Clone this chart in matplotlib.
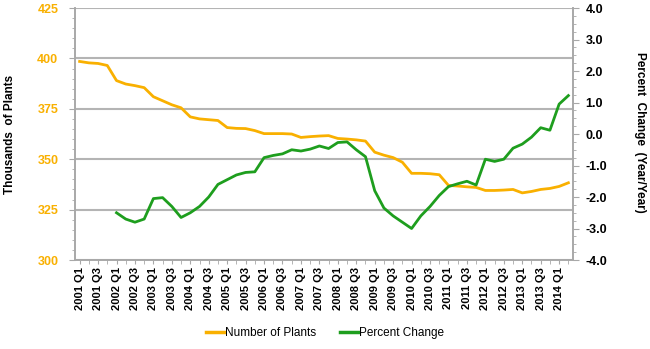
import numpy as np
import matplotlib
matplotlib.use("Agg")
import matplotlib.pyplot as plt
from matplotlib.ticker import MultipleLocator
from matplotlib.lines import Line2D

plt.rcParams['font.family'] = ['Liberation Sans', 'DejaVu Sans']

years = range(2001, 2015)
quarters = [f"{y} Q{q}" for y in years for q in range(1, 5)][:54]

plants = [398.5, 397.8, 397.5, 396.5, 389.0, 387.3, 386.5, 385.5,
          381.0, 379.0, 377.0, 375.5, 371.0, 370.0, 369.6, 369.2,
          365.7, 365.3, 365.2, 364.2, 362.7, 362.7, 362.7, 362.5,
          360.8, 361.2, 361.5, 361.7, 360.3, 360.0, 359.6, 359.0,
          353.5, 352.0, 350.8, 348.5, 343.0, 343.0, 342.8, 342.3,
          337.0, 336.7, 336.3, 336.0, 334.5, 334.5, 334.7, 335.0,
          333.3, 334.0, 335.0, 335.5, 336.5, 338.3]

pct_change = [None, None, None, None, -2.50, -2.70, -2.80, -2.70,
              -2.05, -2.02, -2.30, -2.65, -2.50, -2.30, -2.00, -1.60,
              -1.45, -1.30, -1.22, -1.20, -0.75, -0.68, -0.63, -0.50,
              -0.54, -0.48, -0.38, -0.46, -0.27, -0.25, -0.50, -0.72,
              -1.80, -2.35, -2.60, -2.80, -3.00, -2.60, -2.30, -1.95,
              -1.67, -1.58, -1.50, -1.62, -0.80, -0.87, -0.80, -0.45,
              -0.32, -0.10, 0.20, 0.12, 0.95, 1.22]

orange = '#F9B000'
green = '#1E9E1E'
grey = '#a8a8a8'

x = np.arange(len(quarters))
pct = np.array([np.nan if v is None else v for v in pct_change])

fig, ax = plt.subplots(figsize=(6.5, 3.49), dpi=100)
fig.subplots_adjust(left=0.1154, right=0.8815, top=0.977, bottom=0.255)

ax.plot(x, plants, color=orange, lw=2.0)
ax.set_ylim(300, 425)
ax.set_xlim(-0.5, len(quarters) - 0.5)
ax.yaxis.set_major_locator(MultipleLocator(25))
ax.yaxis.set_minor_locator(MultipleLocator(5))
ax.grid(axis='y', color='#b4b4b4', lw=1.5)
ax.set_axisbelow(True)
ax.set_xticks(x[::2])
ax.set_xticklabels(quarters[::2], rotation=90, fontsize=8, fontweight='bold')
ax.set_xticks(x, minor=True)
for lab in ax.get_yticklabels():
    lab.set_color(orange)
    lab.set_fontweight('bold')
    lab.set_fontsize(9)
ax.tick_params(axis='both', which='both', color=grey, direction='out')
ax.tick_params(axis='y', which='major', length=4, pad=8)
ax.tick_params(axis='y', which='minor', length=2)
ax.tick_params(axis='x', which='both', length=3, pad=2)

ax2 = ax.twinx()
ax2.plot(x, pct, color=green, lw=2.0)
ax2.set_ylim(-4, 4)
ax2.yaxis.set_minor_locator(MultipleLocator(0.25))
ax2.set_yticks(np.arange(-4, 4.1, 1))
ax2.set_yticklabels([f"{v:.1f}" for v in np.arange(-4, 4.1, 1)],
                    fontsize=9, fontweight='bold')
ax2.tick_params(axis='y', which='both', color=grey, direction='out')
ax2.tick_params(axis='y', which='major', length=4, pad=5)
ax2.tick_params(axis='y', which='minor', length=2)

for a in (ax, ax2):
    a.spines['top'].set_visible(False)
    for s in ('left', 'right', 'bottom'):
        a.spines[s].set_color(grey)
        a.spines[s].set_linewidth(1.2)

fig.text(0.016, 0.615, "Thousands  of Plants", rotation=90, ha='center',
         va='center', fontsize=8.5, fontweight='bold')
fig.text(0.985, 0.62, "Percent  Change  (Year/Year)", rotation=270,
         ha='center', va='center', fontsize=8.5, fontweight='bold')

handles = [Line2D([], [], color=orange, lw=2.5),
           Line2D([], [], color=green, lw=2.5)]
fig.legend(handles, ["Number of Plants", "Percent Change"], ncol=2,
           loc='center', bbox_to_anchor=(0.5, 0.046), frameon=False,
           fontsize=8.5, handlelength=1.5, handletextpad=0.1,
           columnspacing=2.0)

fig.savefig("out.png", dpi=100)
